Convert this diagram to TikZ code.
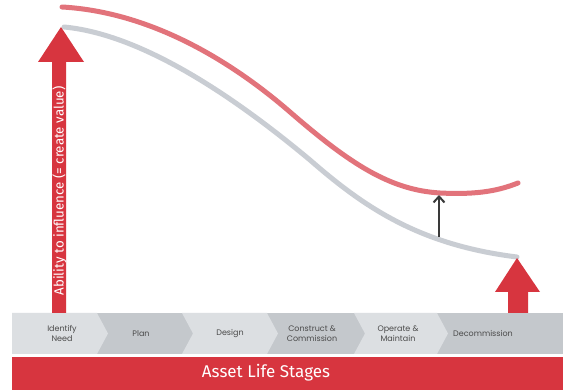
\documentclass[tikz,border=0pt]{standalone}
\usepackage{fontspec}
\setmainfont{Poppins}
\newfontfamily\titlefont{Fira Sans}
\usetikzlibrary{arrows.meta}
\definecolor{redmain}{HTML}{D7353F}
\definecolor{redcurve}{HTML}{E2737B}
\definecolor{graycurve}{HTML}{C9CDD3}
\definecolor{chevlight}{HTML}{DCDFE2}
\definecolor{chevdark}{HTML}{C4C8CC}
\definecolor{labelgray}{HTML}{4A4A4A}
\definecolor{darkarrow}{HTML}{3A3A3A}
\tikzset{
  stagelabel/.style={text=labelgray, font=\fontsize{8}{10}\selectfont, align=center, inner sep=0pt},
  curveline/.style={line width=5pt, line cap=round},
}
\begin{document}
\begin{tikzpicture}[x=1pt,y=-1pt]
\useasboundingbox (0,0) rectangle (563,390);
\fill[white] (0,0) rectangle (563,390);
% chevron band
\fill[chevdark] (12,313) rectangle (563,354);
\fill[chevlight] (12,313) -- (97,313) -- (108,333.5) -- (97,354) -- (12,354) -- cycle;
\fill[chevlight] (182,313) -- (267,313) -- (278,333.5) -- (267,354) -- (182,354) -- (193,333.5) -- cycle;
\fill[chevlight] (354,313) -- (437,313) -- (448,333.5) -- (437,354) -- (354,354) -- (365,333.5) -- cycle;
\node[stagelabel] (s1) at (62,333.5) {Identify\\Need};
\node[stagelabel] (s2) at (141,333.5) {Plan};
\node[stagelabel] (s3) at (230,333.5) {Design};
\node[stagelabel] (s4) at (312,333.5) {Construct \&\\Commission};
\node[stagelabel] (s5) at (398,333.5) {Operate \&\\Maintain};
\node[stagelabel] (s6) at (483,333.5) {Decommission};
% red bar
\fill[redmain] (12,357) rectangle (563,390);
\node[text=white, font=\titlefont\fontsize{17}{19}\selectfont] (title) at (266,373) {Asset Life Stages};
% curves
\draw[curveline, graycurve] (64,27) .. controls (150,35) and (250,110) .. (310,160)
  .. controls (365,208) and (420,245) .. (517,257);
\draw[curveline, redcurve] (62,7) .. controls (150,12) and (230,60) .. (290,112)
  .. controls (350,164) and (390,190) .. (440,193)
  .. controls (480,195) and (500,190) .. (518,183);
% big left arrow
\fill[redmain] (52,313) -- (52,62) -- (38,62) -- (61,27) -- (84,62) -- (66,62) -- (66,313) -- cycle;
\node[rotate=90, text=white, font=\titlefont\fontsize{13.3}{15}\selectfont, inner sep=0pt] (ylabel) at (59.5,191) {Ability to influence (= create value)};
% right arrow
\fill[redmain] (508,313) -- (508,292) -- (495,292) -- (517,258) -- (540,292) -- (528,292) -- (528,313) -- cycle;
% small dark arrow
\coordinate (a0) at (439,237);
\coordinate (a1) at (439,195);
\draw[darkarrow, line width=2pt, -{Straight Barb[length=6pt,width=11pt]}] (a0) -- (a1);
\end{tikzpicture}
\end{document}
